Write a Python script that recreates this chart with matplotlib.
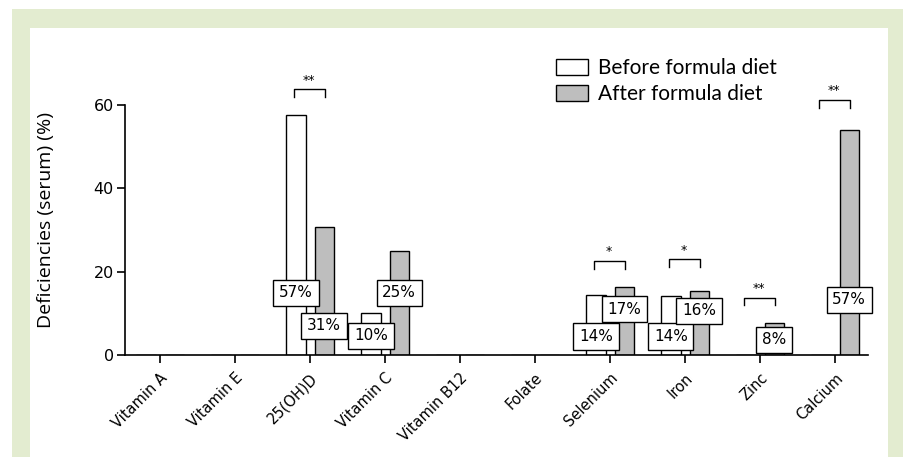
import matplotlib
matplotlib.use("Agg")
import matplotlib.pyplot as plt
from matplotlib.patches import Rectangle, Patch
import numpy as np

categories = ['Vitamin A', 'Vitamin E', '25(OH)D', 'Vitamin C', 'Vitamin B12',
              'Folate', 'Selenium', 'Iron', 'Zinc', 'Calcium']
before = [0, 0, 57.5, 10.2, 0, 0, 14.4, 14.2, 0, 0]
after = [0, 0, 30.8, 25.0, 0, 0, 16.4, 15.4, 7.6, 54.0]
before_labels = [None, None, '57%', '10%', None, None, '14%', '14%', None, None]
after_labels = [None, None, '31%', '25%', None, None, '17%', '16%', '8%', '57%']
before_label_y = [None, None, 14.9, 4.6, None, None, 4.4, 4.4, None, None]
after_label_y = [None, None, 7.0, 14.9, None, None, 11.0, 10.6, 3.6, 13.2]
sig_idx = [2, 6, 7, 8, 9]
sig_text = ['**', '*', '*', '**', '**']
sig_y = [63.8, 22.6, 23.0, 13.8, 61.2]
yticks = [0, 20, 40, 60]

W, H = 904, 457
fig = plt.figure(figsize=(W / 100, H / 100), dpi=100)
fig.patch.set_facecolor('white')
green = '#e3ecd0'
fig.patches.append(Rectangle((12 / W, 0), 1 - 12 / W, 1 - 9 / H, transform=fig.transFigure,
                             facecolor=green, edgecolor='none', zorder=-10))
fig.patches.append(Rectangle((30 / W, 0), (888 - 30) / W, 1 - 28 / H, transform=fig.transFigure,
                             facecolor='white', edgecolor='none', zorder=-9))

left, right = 125 / W, 868 / W
bottom, top = 1 - 355 / H, 1 - 105 / H
ax = fig.add_axes([left, bottom, right - left, top - bottom])
ax.set_facecolor('none')

x = np.arange(len(categories))
off = 0.19
bw = 0.26
ax.bar(x - off, before, bw, color='white', edgecolor='black', linewidth=1.0, zorder=2,
       label='Before formula diet')
ax.bar(x + off, after, bw, color='#bebebe', edgecolor='black', linewidth=1.0, zorder=2,
       label='After formula diet')

box = dict(boxstyle='square,pad=0.38', facecolor='white', edgecolor='black', linewidth=1.0)
for i in range(len(categories)):
    if before_labels[i]:
        ax.text(x[i] - off, before_label_y[i], before_labels[i], ha='center', va='center',
                fontsize=11, bbox=box, zorder=4, family='DejaVu Sans')
    if after_labels[i]:
        ax.text(x[i] + off, after_label_y[i], after_labels[i], ha='center', va='center',
                fontsize=11, bbox=box, zorder=4, family='DejaVu Sans')

for i, t, yv in zip(sig_idx, sig_text, sig_y):
    x0, x1 = x[i] - 0.22, x[i] + 0.2
    ax.plot([x0, x0, x1, x1], [yv - 1.9, yv, yv, yv - 1.9], color='black', lw=1.0,
            clip_on=False, zorder=3)
    ax.text((x0 + x1) / 2, yv + 0.6, t, ha='center', va='bottom', fontsize=9, clip_on=False)

ax.set_xlim(-0.467, 9.44)
ax.set_ylim(0, 60)
ax.set_yticks(yticks)
ax.set_xticks(x)
ax.set_xticklabels(categories, rotation=45, ha='right', rotation_mode='anchor', fontsize=10.5)
for s in ['top', 'right']:
    ax.spines[s].set_visible(False)
for s in ['left', 'bottom']:
    ax.spines[s].set_linewidth(1.2)
ax.tick_params(axis='both', direction='out', length=6, width=1.2)
ax.tick_params(axis='x', pad=5, labelsize=10.5)
ax.tick_params(axis='y', pad=2, labelsize=11.5)
ax.set_ylabel('Deficiencies (serum) (%)', fontsize=14, family='Open Sans')
ax.yaxis.set_label_coords(-0.094, 0.54)

handles = [Patch(facecolor='white', edgecolor='black', linewidth=1.0),
           Patch(facecolor='#bebebe', edgecolor='black', linewidth=1.0)]
fig.legend(handles, ['Before formula diet', 'After formula diet'], loc='upper left',
           bbox_to_anchor=(556 / W, 1 - 58 / H), bbox_transform=fig.transFigure,
           frameon=False, handlelength=1.53, handleheight=0.81,
           handletextpad=0.5, labelspacing=0.28, borderpad=0, borderaxespad=0,
           prop={'family': 'Lato', 'size': 15})

fig.savefig('out.png', dpi=100)
